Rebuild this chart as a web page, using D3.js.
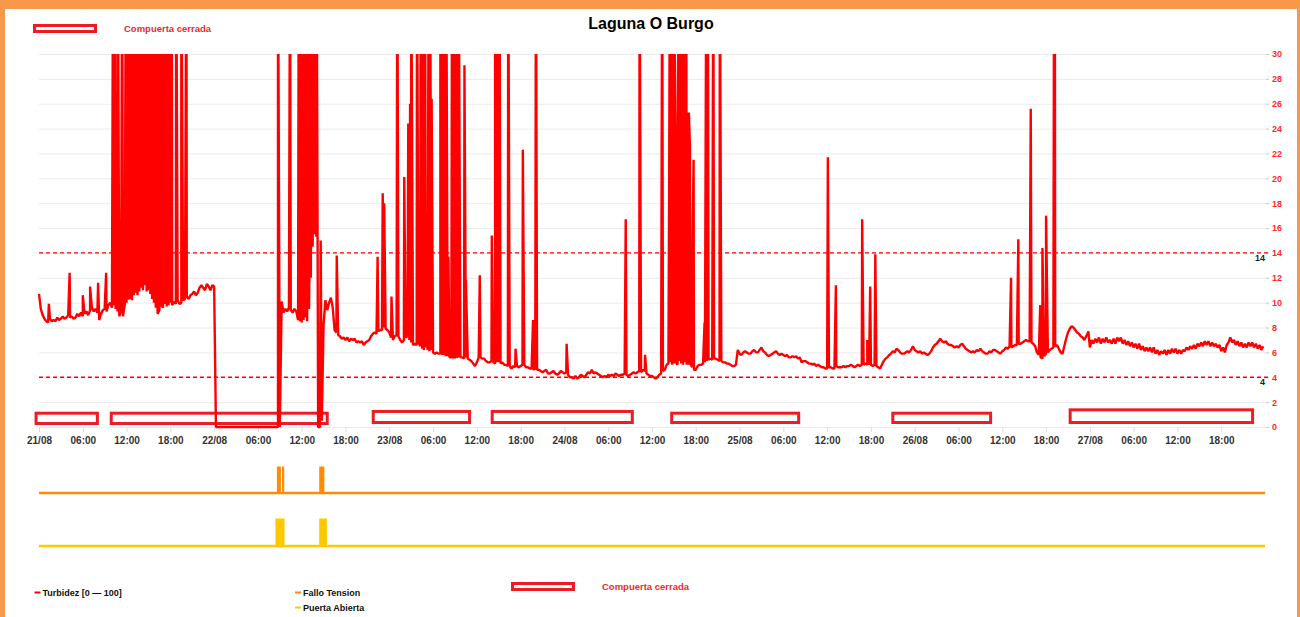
<!DOCTYPE html>
<html><head><meta charset="utf-8">
<script src="https://cdn.jsdelivr.net/npm/d3@7"></script>
<style>
body{margin:0;background:#fff;}
svg{display:block;font-family:"Liberation Sans",Arial,sans-serif;}
</style></head><body>
<svg id="c" width="1300" height="617"></svg>
<script>
// ---------- data ----------
const title = "Laguna O Burgo";
const dayLabels = ["21/08","22/08","23/08","24/08","25/08","26/08","27/08"];
const hourLabels = ["06:00","12:00","18:00"];
const yTicks = [0,2,4,6,8,10,12,14,16,18,20,22,24,26,28,30];
const thresholds = [14,4];
const legendTurb = "Turbidez [0 \u2014 100]";
const legendFallo = "Fallo Tension";
const legendPuerta = "Puerta Abierta";
const legendCompuerta = "Compuerta cerrada";

// turbidity base readings, one every 15 minutes, per day (96 values each)
const baseDay21 = [10.7,9.5,9.0,8.7, 8.5,8.4,8.7,8.5, 8.6,8.5,8.8,8.6, 8.7,8.9,8.7,8.8, 9.0,8.8,8.9,8.7, 8.8,9.1,8.9,9.2,
  8.9,9.1,9.3,9.0, 9.4,9.6,9.3,9.5, 9.2,8.6,9.1,9.4, 9.5,9.3,9.8,10.0, 9.6,9.8,9.5,9.3, 8.9,9.4,8.9,9.8,
  10.0,10.3,10.4,10.2, 10.6,10.8,10.6,10.9, 11.2,11.0,11.4,10.9, 11.0,10.7,10.3,10.0, 9.6,9.1,9.4,9.8, 9.6,9.9,9.7,9.8,
  10.0,9.8,10.1,9.9, 10.2,9.9,10.0,10.2, 10.3,10.5,10.3,10.6, 10.7,10.9,10.6,10.8, 11.2,11.4,11.2,11.0, 11.5,11.3,11.0,11.4];
const baseDay22 = [11.3,0,0,0, 0,0,0,0, 0,0,0,0, 0,0,0,0, 0,0,0,0, 0,0,0,0, 0,0,0,0, 0,0,0,0, 0,0,0,0,
  0,10.1,9.2,9.5, 9.3,9.6,9.4,9.2, 9.5,9.3,8.6,8.5, 8.4,8.6,8.8,8.5, 9.5,12.0,14.5,15.5, 15.3,0,0,0.5,
  8.3,10.2,9.4,10.0, 10.4,9.6,7.8,7.6, 7.4,7.3,7.1,7.2, 7.0,7.2,6.9,7.1, 7.0,7.1,6.8,6.9, 6.8,6.9,6.6,6.8,
  6.9,7.0,7.3,7.5, 7.6,7.5,7.7,7.8, 7.8,8.0,7.9,7.8];
const baseDay23 = [7.6,7.2,7.0,7.3, 7.4,7.3,7.0,6.8, 7.0,7.2,7.3,7.0, 6.8,6.6,6.7,6.6, 6.8,6.5,6.3,6.2, 6.4,6.2,6.1,6.2,
  6.0,5.9,6.0,5.9, 5.9,5.8,5.8,5.7, 5.7,5.6,5.6,5.5, 5.5,5.6,5.7,5.6, 5.6,5.5,5.6,5.5, 5.4,5.3,5.1,4.9,
  5.2,5.6,5.6,5.5, 5.5,5.3,5.2,5.2, 5.3,5.2,5.1,5.2, 5.2,5.1,5.2,5.0, 5.0,4.9,4.9,4.7, 4.9,4.8,4.9,4.8,
  4.9,5.0,5.0,4.8, 4.8,4.7,4.7,4.6, 4.7,4.6,4.6,4.5, 4.4,4.5,4.6,4.3, 4.3,4.4,4.5,4.3, 4.2,4.3,4.5,4.4];
const baseDay24 = [4.3,4.4,4.2,4.0, 4.0,3.9,4.1,3.9, 4.0,4.2,4.1,4.0, 4.2,4.4,4.3,4.6, 4.3,4.4,4.3,4.2, 4.1,4.0,4.1,4.0,
  4.2,4.1,4.2,4.1, 4.3,4.2,4.1,4.2, 4.2,4.3,4.2,4.1, 4.2,4.3,4.4,4.3, 4.4,4.5,4.4,4.6, 4.5,4.3,4.2,4.1,
  4.1,4.0,3.9,4.0, 4.2,4.3,4.5,4.6, 5.0,5.1,5.2,5.0, 5.1,5.2,5.0,5.3, 5.1,5.0,5.2,5.0, 5.0,5.1,4.8,4.6,
  4.6,4.9,5.0,5.0, 5.1,5.2,5.3,5.4, 5.5,5.4,5.5,5.5, 5.4,5.3,5.3,5.2, 5.2,5.1,5.1,5.0, 4.9,4.9,5.0,6.2];
const baseDay25 = [5.9,5.8,6.0,6.1, 6.0,5.9,5.9,6.1, 6.2,6.0,6.0,6.2, 6.4,6.1,6.0,5.8, 5.7,5.8,5.9,6.0, 6.1,5.9,5.8,5.9,
  5.8,5.7,5.8,5.6, 5.6,5.7,5.6,5.7, 5.5,5.6,5.2,5.3, 5.3,5.2,5.1,5.1, 5.0,5.1,4.9,5.0, 4.9,4.8,4.8,4.7,
  4.7,4.8,4.8,4.7, 4.7,4.9,4.8,4.8, 4.8,4.9,4.8,4.9, 4.9,5.0,4.9,4.8, 4.9,5.0,4.9,5.0, 5.0,5.1,5.0,5.0,
  5.0,4.9,5.0,4.9, 4.8,4.7,5.0,5.3, 5.5,5.6,5.8,5.9, 6.1,6.0,6.3,6.2, 6.0,5.9,5.9,6.0, 6.1,6.0,6.2,6.5];
const baseDay26 = [6.2,6.1,6.0,6.1, 5.9,6.0,5.9,5.8, 5.9,6.1,6.4,6.6, 6.7,6.9,7.1,6.9, 6.8,6.9,6.7,6.6, 6.6,6.5,6.4,6.5,
  6.4,6.6,6.7,6.5, 6.3,6.2,6.1,6.0, 6.1,6.0,6.2,6.1, 6.3,6.1,6.0,5.9, 5.9,6.1,6.0,6.2, 6.2,6.1,6.0,5.9,
  6.1,6.2,6.4,6.3, 6.5,6.4,6.5,6.6, 6.6,6.7,6.7,6.8, 6.9,7.0,6.9,6.9, 6.8,6.7,6.5,6.0, 5.8,5.6,5.5,5.7,
  5.9,6.0,6.2,6.3, 6.4,6.5,6.6,6.3, 6.0,5.9,6.5,7.1, 7.6,7.9,8.1,8.0, 7.8,7.6,7.5,7.3, 7.2,7.0,7.3,7.6];
const baseDay27 = [6.4,7.0,6.7,7.1, 6.8,7.2,6.7,7.1, 6.8,7.2,6.8,7.0, 6.7,7.1,6.7,7.2, 6.9,7.2,6.7,7.0, 6.6,6.9,6.5,6.8,
  6.4,6.7,6.3,6.7, 6.2,6.5,6.1,6.4, 6.1,6.4,6.0,6.4, 5.9,6.2,5.8,6.1, 5.9,6.2,5.8,6.2, 5.9,6.3,6.0,6.3,
  5.9,6.2,5.9,6.2, 6.1,6.4,6.2,6.5, 6.3,6.6,6.3,6.7, 6.5,6.8,6.5,6.9, 6.6,6.9,6.5,6.8, 6.5,6.7,6.4,6.6,
  6.1,6.4,6.0,6.6, 6.8,7.2,6.8,7.0, 6.6,6.9,6.5,6.8, 6.4,6.7,6.4,6.8, 6.5,6.8,6.4,6.7, 6.3,6.6,6.2,6.5];

// isolated peaks: [hours since 21/08 00:00, value] (values above 30 run off the top)
const spikesDay21 = [[1.35,9.9],[4.2,12.4],[6.0,10.6],[7.0,11.3],[8.1,11.6],[9.2,12.4],[10.15,40],[10.4,40],[10.55,27],[10.8,40],[11.4,40],[11.9,40],[12.2,40],[12.5,40],[12.7,40],[12.9,40],[13.1,40],[13.2,40],[13.4,40],[13.6,40],[13.85,40],[14.1,40],[14.25,40],[14.4,40],[14.7,40],[14.9,40],[15.2,40],[15.35,40],[15.5,40],[15.8,40],[16.0,40],[16.2,40],[16.5,40],[16.7,40],[17.0,40],[17.3,40],[17.55,40],[17.96,40],[18.2,40],[18.8,40],[19.5,40],[20.2,40]];
const spikesDay22 = [[32.75,40],[34.4,40],[35.6,40],[35.85,40],[36.1,40],[36.3,40],[36.55,40],[36.65,16.9],[36.75,40],[36.95,40],[37.05,12.1],[37.15,40],[37.35,40],[37.6,40],[37.8,40],[38.05,40],[38.6,15],[40.8,13.8],[46.4,13.7],[47.1,18.8],[47.3,18.0]];
const spikesDay23 = [[48.3,10.5],[49.1,40],[50.05,20.1],[50.6,24.4],[50.85,26],[51.0,40],[51.8,40],[52.3,40],[52.5,40],[52.7,40],[52.9,40],[53.1,12.1],[53.4,40],[53.6,40],[53.8,26.4],[55.0,40],[55.3,40],[55.6,40],[55.8,40],[56.1,13.7],[56.6,40],[56.9,40],[57.2,40],[57.5,40],[58.3,29.1],[58.5,11.8],[60.4,12.2],[62.05,15.4],[62.5,40],[62.7,40],[62.9,40],[63.1,40],[64.3,40],[65.3,6.3],[66.3,22.3],[67.7,8.6],[68.1,40]];
const spikesDay24 = [[72.3,6.7],[80.4,16.7],[82.3,40],[83.05,5.8],[85.4,40],[86.35,19],[86.45,40],[86.6,40],[86.8,40],[87.0,40],[87.2,24],[87.5,21.5],[87.7,40],[87.9,40],[88.1,40],[88.3,40],[88.5,40],[88.7,40],[88.9,16.2],[89.05,25.3],[89.2,22.5],[89.5,12.3],[89.7,21.5],[91.2,8.4],[91.45,40],[91.65,40],[92.4,40],[93.3,40]];
const spikesDay25 = [[108.1,21.7],[109.2,11.4],[112.8,16.7],[113.5,7.0],[113.9,11.3],[114.6,13.9]];
const spikesDay26 = [[133.2,12.0],[134.2,15.1],[135.9,25.6],[137.2,9.8],[137.5,14.4],[138.0,17.0],[139.1,40],[139.2,40],[143.8,7.7]];

// gate closed periods: [start h, end h, bottom value, top value]
const compuertaCerrada = [[-0.4,8.0,0.28,1.11],[9.9,39.5,0.28,1.11],[45.8,59.0,0.36,1.25],[62.1,81.3,0.36,1.25],[86.7,104.1,0.36,1.11],[117.0,130.4,0.36,1.11],[141.3,166.3,0.36,1.38]];
// binary events: [start h, end h]
const falloTension = [[32.6,33.15],[33.3,33.6],[38.4,39.1]];
const puertaAbierta = [[32.4,33.65],[38.4,39.45]];

// ---------- drawing ----------
const svg = d3.select("#c");
const RED = "#ff0000", BOX = "#ed1c24", ORANGE = "#ff8c00", YELLOW = "#ffc800", FRAME = "#f7984a";

const x = d3.scaleLinear().domain([0,168]).range([39,1265]);
const y = d3.scaleLinear().domain([0,30]).range([427,54]);
const yF = d3.scaleLinear().domain([0,1]).range([493,466.5]);
const yP = d3.scaleLinear().domain([0,1]).range([546,518.5]);

// frame
svg.append("rect").attr("x",0).attr("y",0).attr("width",1300).attr("height",9).attr("fill",FRAME);
svg.append("rect").attr("x",0).attr("y",0).attr("width",5).attr("height",617).attr("fill",FRAME);
svg.append("rect").attr("x",1297).attr("y",0).attr("width",3).attr("height",617).attr("fill",FRAME);

// title
svg.append("text").attr("x",651).attr("y",29).attr("text-anchor","middle")
  .attr("font-size",16).attr("font-weight","bold").attr("fill","#000").text(title);

// top legend
svg.append("rect").attr("x",34.5).attr("y",25.5).attr("width",61).attr("height",6)
  .attr("fill","#fff").attr("stroke",BOX).attr("stroke-width",3);
svg.append("text").attr("x",124).attr("y",31.5).attr("font-size",9.5).attr("font-weight","bold")
  .attr("fill","#ee2a2a").text(legendCompuerta);

// grid
svg.append("g").selectAll("line").data(yTicks).join("line")
  .attr("x1",39).attr("x2",1268).attr("y1",d=>y(d)+0.5).attr("y2",d=>y(d)+0.5)
  .attr("stroke","#ebebeb").attr("stroke-width",1);

// right axis
const ay = svg.append("g").attr("transform","translate(1266,0)")
  .call(d3.axisRight(y).tickValues(yTicks).tickSize(3).tickPadding(3));
ay.select(".domain").remove();
ay.selectAll(".tick line").attr("stroke","#cccccc");
ay.selectAll(".tick text").attr("fill","#ff2a2a").attr("font-size",9).attr("font-weight","bold")
  .attr("font-family","Liberation Sans, Arial, sans-serif");

// bottom axis
const xTickVals = d3.range(0,163,6);
const fmt = h => (h % 24 === 0) ? dayLabels[h/24] : hourLabels[(h % 24)/6 - 1];
const ax = svg.append("g").attr("transform","translate(0,427)")
  .call(d3.axisBottom(x).tickValues(xTickVals).tickSize(5).tickPadding(5).tickFormat(fmt));
ax.select(".domain").remove();
ax.selectAll(".tick line").attr("stroke","#dddddd");
ax.selectAll(".tick text").attr("fill","#333").attr("font-size",10).attr("font-weight","bold")
  .attr("font-family","Liberation Sans, Arial, sans-serif");

// gate closed boxes
svg.append("g").selectAll("rect").data(compuertaCerrada).join("rect")
  .attr("x",d=>x(d[0])).attr("width",d=>x(d[1])-x(d[0]))
  .attr("y",d=>y(d[3])).attr("height",d=>y(d[2])-y(d[3]))
  .attr("fill","#fff").attr("stroke",BOX).attr("stroke-width",3);

// threshold lines
svg.append("g").selectAll("line").data(thresholds).join("line")
  .attr("x1",39).attr("x2",1268).attr("y1",d=>y(d)).attr("y2",d=>y(d))
  .attr("stroke",RED).attr("stroke-width",1.3).attr("stroke-dasharray","4,3");
svg.append("g").selectAll("text").data(thresholds).join("text")
  .attr("x",1265).attr("y",d=>y(d)+8).attr("text-anchor","end")
  .attr("font-size",9).attr("font-weight","bold").attr("fill","#222").text(d=>d);

// turbidity line
const defs = svg.append("defs");
defs.append("clipPath").attr("id","plot").append("rect")
  .attr("x",30).attr("y",54).attr("width",1240).attr("height",376);
const baseDays = [baseDay21,baseDay22,baseDay23,baseDay24,baseDay25,baseDay26,baseDay27];
const basePts = baseDays.flatMap((arr,d) => arr.map((v,i) => [d*24 + i/4, v]));
const spikePts = [].concat(spikesDay21,spikesDay22,spikesDay23,spikesDay24,spikesDay25,spikesDay26);
const turb = basePts.concat(spikePts).sort((a,b) => a[0]-b[0]);
const line = d3.line().x(d=>x(d[0])).y(d=>y(d[1]));
svg.append("path").datum(turb).attr("clip-path","url(#plot)")
  .attr("d",line).attr("fill","none").attr("stroke",RED).attr("stroke-width",2.4)
  .attr("stroke-linejoin","miter").attr("stroke-miterlimit",1);

// Fallo Tension
svg.append("line").attr("x1",x(0)).attr("x2",x(168)).attr("y1",yF(0)).attr("y2",yF(0))
  .attr("stroke",ORANGE).attr("stroke-width",2.5);
svg.append("g").selectAll("rect").data(falloTension).join("rect")
  .attr("x",d=>x(d[0])).attr("width",d=>x(d[1])-x(d[0]))
  .attr("y",yF(1)).attr("height",yF(0)-yF(1)).attr("fill",ORANGE);

// Puerta Abierta
svg.append("line").attr("x1",x(0)).attr("x2",x(168)).attr("y1",yP(0)).attr("y2",yP(0))
  .attr("stroke",YELLOW).attr("stroke-width",2.5);
svg.append("g").selectAll("rect").data(puertaAbierta).join("rect")
  .attr("x",d=>x(d[0])).attr("width",d=>x(d[1])-x(d[0]))
  .attr("y",yP(1)).attr("height",yP(0)-yP(1)).attr("fill",YELLOW);

// bottom legend
function legendItem(lx, ly, color, label){
  svg.append("line").attr("x1",lx).attr("x2",lx+6).attr("y1",ly).attr("y2",ly)
    .attr("stroke",color).attr("stroke-width",2);
  svg.append("text").attr("x",lx+8).attr("y",ly+3.5).attr("font-size",9).attr("font-weight","bold")
    .attr("fill","#111").text(label);
}
legendItem(34.5, 592.5, RED, legendTurb);
legendItem(295, 592.5, ORANGE, legendFallo);
legendItem(295, 607.5, YELLOW, legendPuerta);
svg.append("rect").attr("x",512.5).attr("y",583.5).attr("width",61).attr("height",6)
  .attr("fill","#fff").attr("stroke",BOX).attr("stroke-width",3);
svg.append("text").attr("x",602).attr("y",589.5).attr("font-size",9.5).attr("font-weight","bold")
  .attr("fill","#ee2a2a").text(legendCompuerta);
</script>
</body></html>
